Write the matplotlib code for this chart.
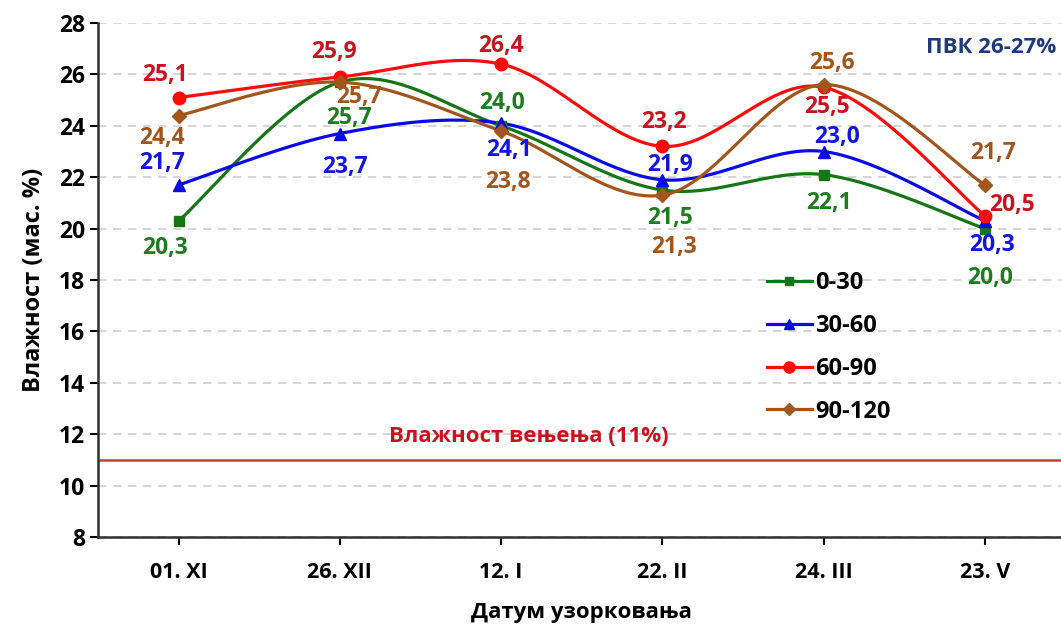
import numpy as np
import matplotlib
matplotlib.use("Agg")
import matplotlib.pyplot as plt

plt.rcParams['font.family'] = ['Open Sans', 'DejaVu Sans']
plt.rcParams['font.weight'] = 'bold'

# Data
dates = ["01. XI", "26. XII", "12. I", "22. II", "24. III", "23. V"]
depths = ["0-30", "30-60", "60-90", "90-120"]
d0_30 = [20.3, 25.7, 24.0, 21.5, 22.1, 20.0]
d30_60 = [21.7, 23.7, 24.1, 21.9, 23.0, 20.3]
d60_90 = [25.1, 25.9, 26.4, 23.2, 25.5, 20.5]
d90_120 = [24.4, 25.7, 23.8, 21.3, 25.6, 21.7]
wilting = 11

series = [d0_30, d30_60, d60_90, d90_120]
line_colors = ['#167516', '#0a0ae6', '#ff0a0a', '#a2561c']
label_colors = ['#1e7b1e', '#1414e0', '#c8141e', '#a2561c']
markers = ['s', '^', 'o', 'D']
msizes = [7, 8, 9, 7]

# label offsets in pixels (dx, dy; dy positive = up)
offsets = [
    [(-14, -27), (9, -36), (1, 23), (8, -28), (5, -28), (5, -49)],
    [(-17, 22), (5, -33), (8, -27), (8, 15), (13, 14), (7, -24)],
    [(-14, 23), (-6, 25), (0, 18), (2, 24), (3, -20), (27, 11)],
    [(-17, -22), (19, -15), (7, -51), (12, -52), (8, 22), (8, 32)],
]


def smooth(y, n=40):
    # Excel-like smoothed line (cubic Bezier, Catmull-Rom control points)
    x = np.arange(len(y), dtype=float)
    y = np.asarray(y, dtype=float)
    px = np.concatenate([[x[0]], x, [x[-1]]])
    py = np.concatenate([[y[0]], y, [y[-1]]])
    xs, ys = [], []
    t = np.linspace(0, 1, n)
    for i in range(len(x) - 1):
        p0 = np.array([px[i + 1], py[i + 1]])
        p3 = np.array([px[i + 2], py[i + 2]])
        c1 = p0 + (np.array([px[i + 2], py[i + 2]]) - np.array([px[i], py[i]])) / 6
        c2 = p3 - (np.array([px[i + 3], py[i + 3]]) - np.array([px[i + 1], py[i + 1]])) / 6
        b = ((1 - t) ** 3)[:, None] * p0 + (3 * (1 - t) ** 2 * t)[:, None] * c1 \
            + (3 * (1 - t) * t ** 2)[:, None] * c2 + (t ** 3)[:, None] * p3
        xs.append(b[:, 0])
        ys.append(b[:, 1])
    return np.concatenate(xs), np.concatenate(ys)


fig = plt.figure(figsize=(10.61, 6.31), dpi=100)
ax = fig.add_axes([98 / 1061, 94 / 631, 967.5 / 1061, 514 / 631])

x = np.arange(len(dates))
handles = []
for k, vals in enumerate(series):
    sx, sy = smooth(vals)
    ax.plot(sx, sy, color=line_colors[k], lw=2.3, zorder=3)
    ax.plot(x, vals, linestyle='none', marker=markers[k], ms=msizes[k],
            color=line_colors[k], zorder=4)
    h, = ax.plot([], [], color=line_colors[k], lw=2.3, marker=markers[k],
                 ms=msizes[k] - 1, label=depths[k])
    handles.append(h)
    for i, v in enumerate(vals):
        dx, dy = offsets[k][i]
        ax.annotate(f"{v:.1f}".replace('.', ','), (i, v), xytext=(dx, dy),
                    textcoords='offset pixels', ha='center', va='center',
                    fontsize=16.5, fontweight='bold', color=label_colors[k], zorder=5)

ax.axhline(wilting, color='#d43a3a', lw=1.8, zorder=2)
ax.text(2.17, 11.9, "Влажност вењења (11%)", color='#c8141e', fontsize=16,
        fontweight='bold', ha='center', va='center')
ax.text(5.44, 27.03, "ПВК 26-27%", color='#1f3a78', fontsize=16,
        fontweight='bold', ha='right', va='center')

ax.set_xlim(-0.5, 5.5)
ax.set_ylim(8, 28)
ax.set_yticks(np.arange(8, 29, 2))
ax.set_xticks(x)
ax.set_xticklabels(dates)
ax.tick_params(axis='y', labelsize=16.5, length=6, width=1.5, direction='out')
ax.tick_params(axis='x', labelsize=15.5, length=6, width=1.5, direction='out', pad=12)
for lab in ax.get_xticklabels() + ax.get_yticklabels():
    lab.set_fontweight('bold')
ax.grid(axis='y', color='#d0d0d0', ls=(0, (5, 4)), lw=1.2)
ax.set_axisbelow(True)
for s in ['top', 'right']:
    ax.spines[s].set_visible(False)
for s in ['left', 'bottom']:
    ax.spines[s].set_linewidth(1.8)
    ax.spines[s].set_color('#303030')

ax.set_ylabel("Влажност (мас. %)", fontsize=17, fontweight='bold', labelpad=9)
ax.set_xlabel("Датум узорковања", fontsize=16, fontweight='bold', labelpad=14)

leg = ax.legend(handles=handles, loc='upper left', bbox_to_anchor=(0.6915, 0.5175),
                frameon=False, fontsize=17, handlelength=1.9, handletextpad=0.15,
                labelspacing=0.8, borderaxespad=0, borderpad=0)
for t in leg.get_texts():
    t.set_fontweight('bold')

fig.savefig("out.png", dpi=100)
